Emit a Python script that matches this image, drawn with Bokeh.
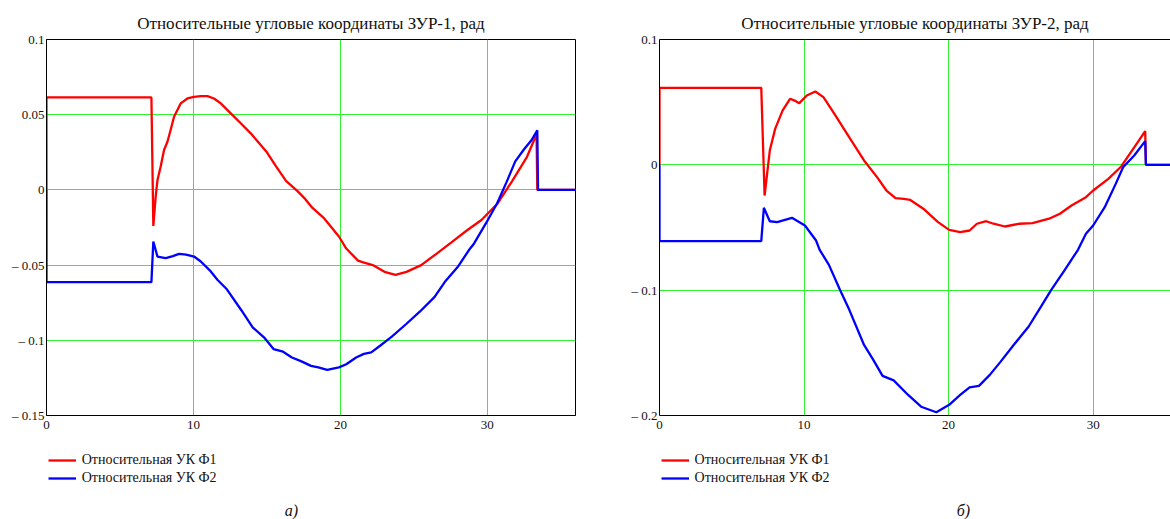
from bokeh.plotting import figure
from bokeh.layouts import row, column
from bokeh.models import (Range1d, FixedTicker, CustomJSTickFormatter, Legend,
                          LegendItem, LinearAxis, Label)
from bokeh.embed import file_html
from bokeh.resources import INLINE

# ---------------- data ----------------
titles = ["Относительные угловые координаты ЗУР-1, рад",
          "Относительные угловые координаты ЗУР-2, рад"]
captions = ["а)", "б)"]
series_names = ["Относительная УК Ф1", "Относительная УК Ф2"]

x_ticks = [0, 10, 20, 30]
y_ticks_1 = [-0.15, -0.1, -0.05, 0, 0.05, 0.1]
y_ticks_2 = [-0.2, -0.1, 0, 0.1]

# ЗУР-1, Ф1
t_f1_a = [0, 0, 7.14, 7.27, 7.43, 7.55, 7.77, 8.0, 8.23, 8.45, 8.68, 9.13, 9.59,
          10.04, 10.5, 10.95, 11.4, 11.86, 12.54, 13.22, 13.9, 14.3, 15.0, 15.6,
          16.3, 17.1, 17.6, 18.1, 18.9, 19.9, 20.4, 21.2, 21.5, 22.2, 23.0, 23.75,
          24.5, 25.5, 26.6, 27.6, 28.6, 29.6, 30.7, 31.7, 32.7, 33.35, 33.4, 36]
f1_a = [0, 0.0615, 0.0615, -0.024, -0.0045, 0.0064, 0.0155, 0.0265, 0.032, 0.040,
        0.0486, 0.0575, 0.0608, 0.0619, 0.0623, 0.0624, 0.0608, 0.0575, 0.0509,
        0.0443, 0.0376, 0.033, 0.025, 0.016, 0.006, -0.001, -0.006, -0.012, -0.019,
        -0.031, -0.039, -0.047, -0.048, -0.050, -0.0545, -0.0565, -0.0545, -0.050,
        -0.042, -0.0345, -0.027, -0.020, -0.009, 0.006, 0.022, 0.037, 0, 0]

# ЗУР-1, Ф2
t_f2_a = [0, 0, 7.14, 7.27, 7.55, 8.11, 8.6, 9.02, 9.5, 10.04, 10.5, 11.18, 11.63,
          12.24, 13.26, 14.03, 14.8, 15.45, 16.1, 16.7, 17.35, 18.0, 18.5, 19.1,
          19.9, 20.4, 21.07, 21.6, 22.1, 22.7, 23.5, 24.5, 25.4, 26.4, 27.1, 27.98,
          28.75, 29.1, 29.9, 30.66, 31.3, 31.9, 32.5, 33.0, 33.4, 33.45, 36]
f2_a = [0, -0.0613, -0.0613, -0.0343, -0.0443, -0.0453, -0.044, -0.0425, -0.043,
        -0.0443, -0.0476, -0.0542, -0.0597, -0.0657, -0.080, -0.0914, -0.098,
        -0.1058, -0.1076, -0.1114, -0.114, -0.117, -0.118, -0.1196, -0.118, -0.1159,
        -0.1114, -0.109, -0.108, -0.1036, -0.0976, -0.089, -0.081, -0.0713, -0.0613,
        -0.0513, -0.040, -0.0356, -0.0223, -0.009, 0.005, 0.019, 0.027, 0.033,
        0.0396, 0, 0]

# ЗУР-2, Ф1
t_f1_b = [0, 0, 7.04, 7.27, 7.63, 8.0, 8.52, 9.03, 9.4, 9.67, 10.19, 10.78, 11.34,
          12.1, 13.13, 14.15, 15.05, 15.7, 16.33, 16.9, 17.35, 18.25, 19.27, 20.04,
          20.8, 21.45, 21.96, 22.6, 23.1, 23.9, 24.9, 25.8, 26.95, 27.7, 28.5, 29.5,
          30.0, 31.05, 31.94, 32.84, 33.6, 33.65, 35.35]
f1_b = [0, 0.0614, 0.0614, -0.0245, 0.0114, 0.0287, 0.0434, 0.0527, 0.051, 0.0492,
        0.0553, 0.0585, 0.054, 0.0407, 0.022, 0.0035, -0.0098, -0.0205, -0.0266,
        -0.0272, -0.028, -0.035, -0.0457, -0.0519, -0.0537, -0.0524, -0.047, -0.045,
        -0.047, -0.0492, -0.047, -0.0465, -0.043, -0.039, -0.0324, -0.0258, -0.0205,
        -0.0112, -0.0013, 0.014, 0.0269, 0, 0]

# ЗУР-2, Ф2
t_f2_b = [0, 0, 7.04, 7.22, 7.63, 8.14, 9.16, 10.06, 10.83, 11.08, 11.72, 12.49,
          13.13, 14.15, 14.79, 15.43, 16.2, 17.2, 18.1, 19.15, 20.04, 20.8, 21.45,
          22.1, 22.85, 23.6, 24.5, 25.54, 26.4, 27.1, 27.97, 28.95, 29.5, 30.0, 30.8,
          31.56, 32.07, 32.84, 33.6, 33.65, 35.35]
f2_b = [0, -0.0609, -0.0609, -0.0343, -0.045, -0.0457, -0.0423, -0.0484, -0.0604,
        -0.0678, -0.0798, -0.0998, -0.1157, -0.1437, -0.1556, -0.1684, -0.172,
        -0.1836, -0.193, -0.1974, -0.1915, -0.1836, -0.1775, -0.1764, -0.1676,
        -0.157, -0.1437, -0.129, -0.113, -0.0998, -0.085, -0.0678, -0.055, -0.0484,
        -0.0338, -0.0152, -0.0019, 0.0074, 0.0189, 0, 0]

SERIF = "Liberation Serif"
RED = "#ff0000"
BLUE = "#0000ff"
GRID = "#33f033"
INK = "#111111"
LW = 2.3

PLOT_H = 440
LEG_H = 79
LEG_Y0 = 1000  # legend strip uses its own offset pixel coordinates

fmt = CustomJSTickFormatter(code="""
    var v = Math.round(tick * 1000) / 1000;
    if (v < 0) { return "\\u2013 " + String(-v); }
    return String(v);
""")


def make_plot(width, border_left, border_right, x_end, y_start, y_end, y_ticks,
              title, tf1, f1, tf2, f2, full_outline):
    p = figure(width=width, height=PLOT_H, x_range=Range1d(0, x_end),
               y_range=Range1d(y_start, y_end), output_backend="svg",
               toolbar_location=None, min_border_left=border_left,
               min_border_right=border_right, min_border_top=39,
               min_border_bottom=25, background_fill_color="white",
               border_fill_color="white")
    p.title.text = title
    p.title.text_font = SERIF
    p.title.text_font_size = "17px"
    p.title.text_font_style = "normal"
    p.title.align = "center"
    p.title.text_color = INK
    p.title.standoff = 14

    xax = p.below[0]
    yax = p.left[0]

    if full_outline:
        p.outline_line_color = "black"
        p.outline_line_width = 1
    else:
        p.outline_line_color = None
        top = LinearAxis(ticker=FixedTicker(ticks=[]),
                         major_label_text_font_size="0px",
                         major_tick_line_color=None, minor_tick_line_color=None,
                         major_tick_out=0, major_tick_in=0, minor_tick_out=0,
                         axis_line_color="black", major_label_standoff=0)
        p.add_layout(top, "above")

    for ax in (xax, yax):
        ax.axis_line_color = "black"
        ax.major_tick_line_color = None
        ax.minor_tick_line_color = None
        ax.major_tick_out = 0
        ax.major_tick_in = 0
        ax.minor_tick_out = 0
        ax.minor_tick_in = 0
        ax.major_label_text_font = SERIF
        ax.major_label_text_font_size = "13px"
        ax.major_label_text_color = INK
    xax.ticker = FixedTicker(ticks=x_ticks)
    xax.major_label_standoff = 5
    yax.ticker = FixedTicker(ticks=y_ticks)
    yax.formatter = fmt
    yax.major_label_standoff = 2

    p.xgrid.ticker = FixedTicker(ticks=x_ticks)
    p.ygrid.ticker = FixedTicker(ticks=y_ticks)
    p.grid.grid_line_color = GRID
    p.grid.grid_line_width = 1

    p.line(tf1, f1, line_color=RED, line_width=LW)
    p.line(tf2, f2, line_color=BLUE, line_width=LW)
    return p


def make_legend(width, frame_w, leg_x, caption, caption_x, tf1, f1, tf2, f2):
    # strip below a chart: its frame is aligned with the chart's frame, so the
    # x range is expressed in pixels from the chart's left frame edge
    q = figure(width=width, height=LEG_H, x_range=Range1d(0, frame_w),
               y_range=Range1d(LEG_Y0, LEG_Y0 + LEG_H), output_backend="svg",
               toolbar_location=None, x_axis_type=None, y_axis_type=None,
               min_border=0, outline_line_color=None,
               background_fill_color="white", border_fill_color="white")
    q.grid.visible = False
    # same series as the chart (they fall outside this strip's range, only the
    # legend swatches show)
    r1 = q.line(tf1, f1, line_color=RED, line_width=LW)
    r2 = q.line(tf2, f2, line_color=BLUE, line_width=LW)
    legend = Legend(items=[LegendItem(label=series_names[0], renderers=[r1]),
                           LegendItem(label=series_names[1], renderers=[r2])],
                    location=(leg_x, 32), orientation="vertical",
                    glyph_width=28, glyph_height=18, label_height=18,
                    label_standoff=6, spacing=0, padding=0, margin=0,
                    label_text_font=SERIF, label_text_font_size="14px",
                    label_text_color=INK,
                    border_line_color=None, background_fill_alpha=0)
    q.add_layout(legend, "center")
    q.add_layout(Label(x=caption_x, y=LEG_Y0 + 9, text=caption, text_font=SERIF,
                       text_font_size="16px", text_font_style="italic",
                       text_align="center", text_baseline="middle",
                       text_color=INK))
    return q


p1 = make_plot(590, 46, 15, 36, -0.15, 0.1, y_ticks_1, titles[0],
               t_f1_a, f1_a, t_f2_a, f2_a, True)
p2 = make_plot(580, 69, 0, 35.35, -0.2, 0.1, y_ticks_2, titles[1],
               t_f1_b, f1_b, t_f2_b, f2_b, False)
l1 = make_legend(590, 529, 1.7, captions[0], 245, t_f1_a, f1_a, t_f2_a, f2_a)
l2 = make_legend(580, 511, 1.6, captions[1], 304, t_f1_b, f1_b, t_f2_b, f2_b)

layout = row(column(p1, l1, spacing=0), column(p2, l2, spacing=0), spacing=0)
open("out.html", "w").write(file_html(layout, INLINE))
